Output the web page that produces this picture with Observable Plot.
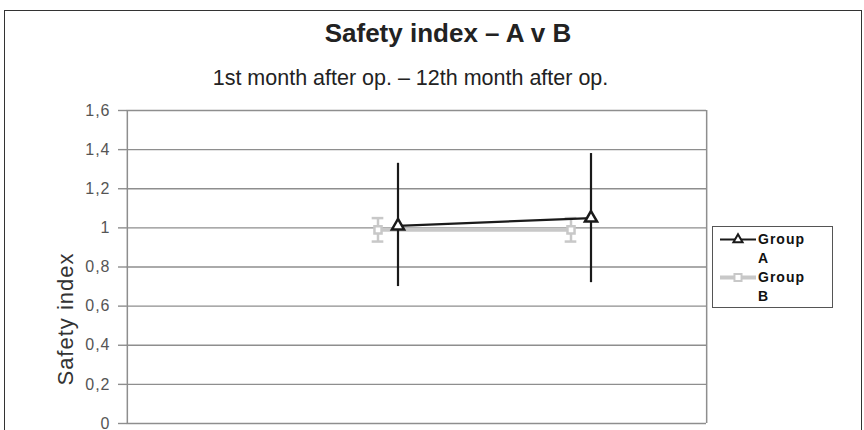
<!DOCTYPE html>
<html><head><meta charset="utf-8">
<script src="https://cdn.jsdelivr.net/npm/d3@7"></script>
<script src="https://cdn.jsdelivr.net/npm/@observablehq/plot@0.6"></script>
<style>
body{margin:0;background:#fff;font-family:"Liberation Sans",Arial,sans-serif;}
#wrap{position:relative;width:864px;height:430px;overflow:hidden;background:#fff;}
#frame{position:absolute;left:4px;top:10px;width:858px;height:440px;border:1.5px solid #333;box-sizing:border-box;}
#title{position:absolute;left:0;width:896px;top:20px;line-height:26px;text-align:center;font-weight:bold;font-size:26px;color:#222;}
#subtitle{position:absolute;left:0;width:821px;top:68px;line-height:21.5px;text-align:center;font-size:21.5px;color:#222;}
#ylabel{position:absolute;left:66px;top:319px;width:0;height:0;}
#ylabel span{position:absolute;left:0;top:0;transform:translate(-50%,-50%) rotate(-90deg);white-space:nowrap;font-size:22px;letter-spacing:1px;color:#333;line-height:22px;}
#chart{position:absolute;left:0;top:100px;}
#chart g[aria-label="y-axis tick label"], #chart g[aria-label="y-axis tick label"] text{font-size:16px !important;letter-spacing:1px;}
#legend{position:absolute;left:712px;top:226px;width:121px;height:82px;border:1.5px solid #555;box-sizing:border-box;font-weight:bold;font-size:14px;letter-spacing:1px;color:#111;}
.sample{position:absolute;left:6px;}
.lbl{position:absolute;left:45px;line-height:19px;width:70px;}
</style></head>
<body><div id="wrap">
<div id="frame"></div>
<div id="title"></div>
<div id="subtitle"></div>
<div id="chart"></div>
<div id="ylabel"><span></span></div>
<div id="legend"></div>
</div>
<script>
const titleText = "Safety index \u2013 A v B";
const subtitleText = "1st month after op. \u2013 12th month after op.";
const yLabel = "Safety index";
const periods = ["", "1st month after op.", "12th month after op."];
const groups = ["Group A", "Group B"];
const groupA_period = ["1st month after op.", "12th month after op."];
const groupA_mean = [1.01, 1.05];
const groupA_low = [0.70, 0.72];
const groupA_high = [1.33, 1.38];
const groupB_period = ["1st month after op.", "12th month after op."];
const groupB_mean = [0.99, 0.99];
const groupB_low = [0.93, 0.93];
const groupB_high = [1.05, 1.05];
const yTicks = [0, 0.2, 0.4, 0.6, 0.8, 1, 1.2, 1.4, 1.6];
const yTickLabels = ["0", "0,2", "0,4", "0,6", "0,8", "1", "1,2", "1,4", "1,6"];

document.getElementById("title").textContent = titleText;
document.getElementById("subtitle").textContent = subtitleText;
document.querySelector("#ylabel span").textContent = yLabel;

const A = groupA_period.map((p, i) => ({period: p, mean: groupA_mean[i], low: groupA_low[i], high: groupA_high[i]}));
const B = groupB_period.map((p, i) => ({period: p, mean: groupB_mean[i], low: groupB_low[i], high: groupB_high[i]}));

const colA = "#1a1a1a", colB = "#c8c8c8", grid = "#8e8e8e";
const bandW = (706 - 126) / 3;
const offA = -19, offB = -39;
const capHalf = 6;
const capInsetL = bandW / 2 + offB - capHalf;
const capInsetR = bandW - (bandW / 2 + offB + capHalf);
const fmt = d => yTickLabels[yTicks.indexOf(d)];

const plot = Plot.plot({
  width: 864, height: 330,
  marginLeft: 126, marginRight: 158, marginTop: 10, marginBottom: 7,
  style: {fontFamily: "Liberation Sans, Arial, sans-serif", fontSize: "16px", color: "#555", background: "transparent"},
  x: {type: "band", domain: periods, padding: 0, axis: null},
  y: {domain: [0, 1.6], label: null, axis: null},
  marks: [
    Plot.ruleY(yTicks, {stroke: grid, strokeWidth: 1.4}),
    Plot.ruleX([0], {x: () => periods[0], dx: -bandW / 2, stroke: grid, strokeWidth: 1.5}),
    Plot.ruleX([0], {x: () => periods[2], dx: bandW / 2, stroke: grid, strokeWidth: 1.5}),
    Plot.axisY({ticks: yTicks, tickFormat: fmt, tickSize: 8, tickPadding: 8, stroke: grid, strokeWidth: 1.4, fill: "#555", fontSize: 16, label: null}),
    // Group B
    Plot.line(B, {x: "period", y: "mean", dx: offB, stroke: colB, strokeWidth: 4}),
    Plot.ruleX(B, {x: "period", y1: "low", y2: "high", dx: offB, stroke: colB, strokeWidth: 2.5}),
    Plot.tickY(B, {x: "period", y: "low", insetLeft: capInsetL, insetRight: capInsetR, stroke: colB, strokeWidth: 2.5}),
    Plot.tickY(B, {x: "period", y: "high", insetLeft: capInsetL, insetRight: capInsetR, stroke: colB, strokeWidth: 2.5}),
    Plot.dot(B, {x: "period", y: "mean", dx: offB, symbol: "square", r: 4, stroke: colB, strokeWidth: 2.5, fill: "white"}),
    // Group A
    Plot.ruleX(A, {x: "period", y1: "low", y2: "high", dx: offA, stroke: colA, strokeWidth: 2.2}),
    Plot.line(A, {x: "period", y: "mean", dx: offA, stroke: colA, strokeWidth: 2.2}),
    Plot.dot(A, {x: "period", y: "mean", dx: offA, symbol: "triangle", r: 4.5, stroke: colA, strokeWidth: 2.5, fill: "white"})
  ]
});
document.getElementById("chart").appendChild(plot);

// legend
const legend = document.getElementById("legend");
const items = [
  {name: groups[0], color: colA, sym: "triangle", sw: 2.2},
  {name: groups[1], color: colB, sym: "square", sw: 4}
];
items.forEach((it, i) => {
  const top = 3 + i * 38;
  const svg = d3.create("svg").attr("class", "sample").attr("width", 38).attr("height", 20).style("top", (top) + "px");
  svg.append("line").attr("x1", 1).attr("x2", 37).attr("y1", 9.5).attr("y2", 9.5).attr("stroke", it.color).attr("stroke-width", it.sw);
  const s = it.sym === "triangle" ? d3.symbolTriangle : d3.symbolSquare;
  svg.append("path").attr("d", d3.symbol(s, it.sym === "triangle" ? 36 : 50)()).attr("transform", "translate(19,9.5)")
    .attr("fill", "white").attr("stroke", it.color).attr("stroke-width", 2);
  legend.appendChild(svg.node());
  const lbl = document.createElement("div");
  lbl.className = "lbl";
  lbl.style.top = top + "px";
  lbl.innerHTML = it.name.replace(" ", "<br>");
  legend.appendChild(lbl);
});
</script>
</body></html>
